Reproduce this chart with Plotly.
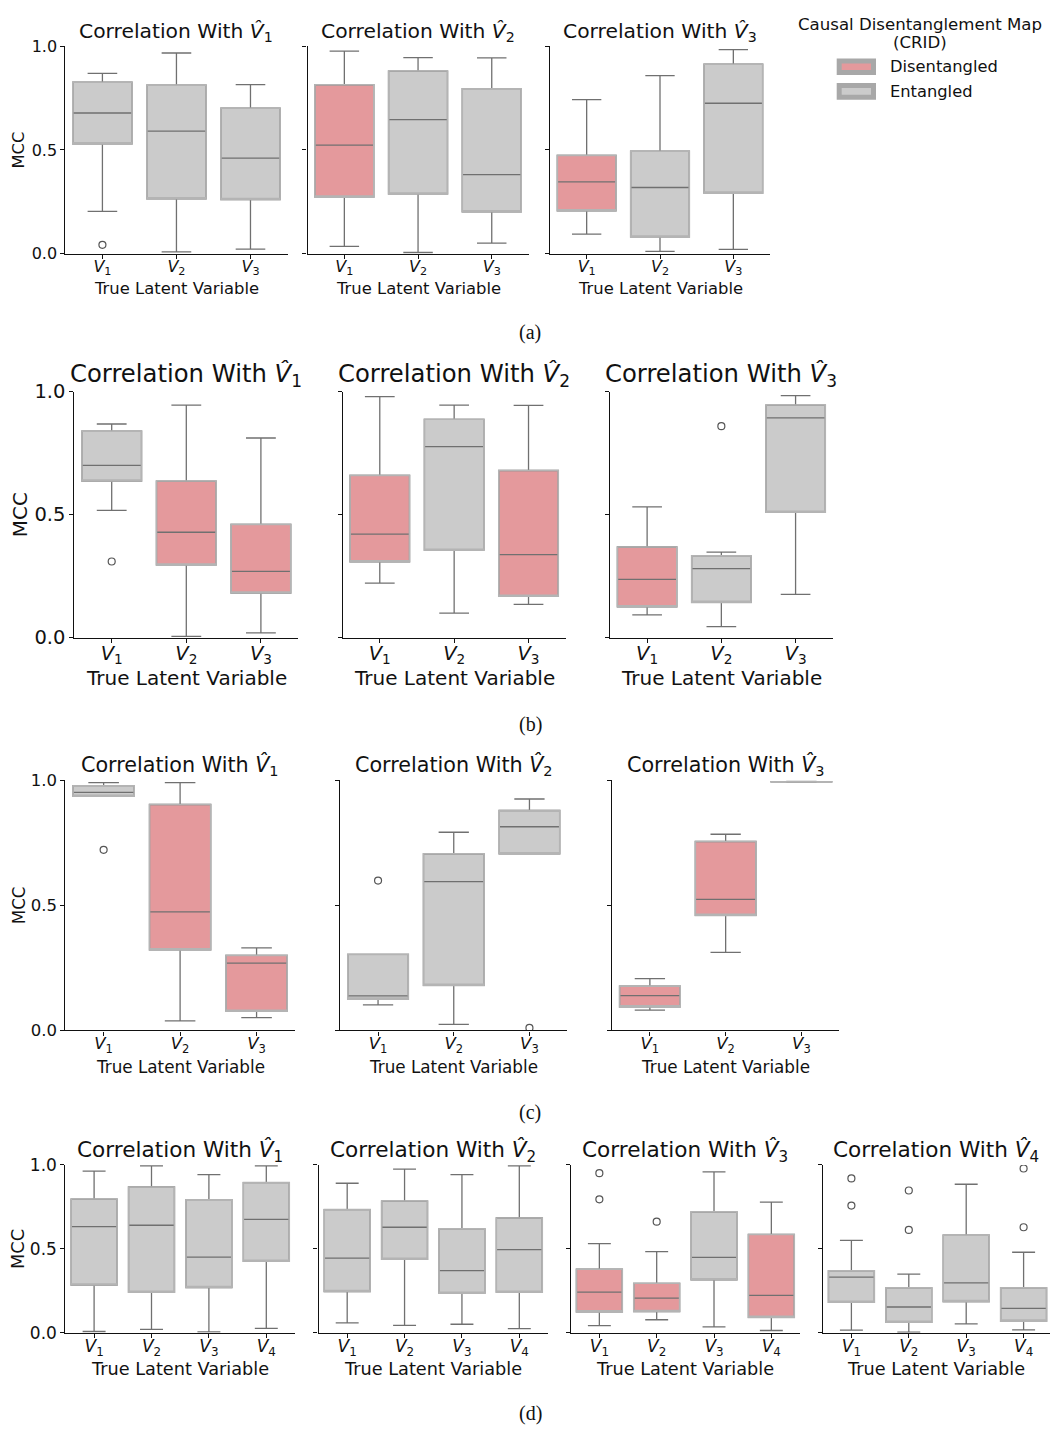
import plotly.graph_objects as go

W, H = 1050, 1439

# ---------------- data ----------------
latent3 = ["V1", "V2", "V3"]
latent4 = ["V1", "V2", "V3", "V4"]
y_ticks = [0.0, 0.5, 1.0]
y_tick_labels = ["0.0", "0.5", "1.0"]
state_names = {"D": "Disentangled", "E": "Entangled"}

# (a)  -- one inner list per "Correlation With V^k" panel
a_state = [["E", "E", "E"], ["D", "E", "E"], ["D", "E", "E"]]
a_lo = [[0.204, 0.009, 0.022], [0.036, 0.006, 0.051], [0.095, 0.011, 0.021]]
a_q1 = [[0.529, 0.265, 0.261], [0.273, 0.288, 0.202], [0.207, 0.081, 0.292]]
a_med = [[0.678, 0.591, 0.461], [0.523, 0.646, 0.381], [0.346, 0.319, 0.725]]
a_q3 = [[0.826, 0.812, 0.701], [0.814, 0.880, 0.795], [0.474, 0.494, 0.913]]
a_hi = [[0.869, 0.967, 0.815], [0.976, 0.945, 0.943], [0.742, 0.858, 0.983]]
a_out = [[[0.043], [], []], [[], [], []], [[], [], []]]

# (b)
b_state = [["E", "D", "D"], ["D", "E", "D"], ["D", "E", "E"]]
b_lo = [[0.517, 0.005, 0.019], [0.221, 0.099, 0.135], [0.092, 0.044, 0.175]]
b_q1 = [[0.636, 0.295, 0.181], [0.308, 0.355, 0.168], [0.125, 0.143, 0.509]]
b_med = [[0.700, 0.428, 0.269], [0.420, 0.776, 0.337], [0.236, 0.280, 0.893]]
b_q3 = [[0.839, 0.636, 0.460], [0.659, 0.887, 0.679], [0.368, 0.332, 0.945]]
b_hi = [[0.868, 0.945, 0.811], [0.979, 0.945, 0.944], [0.531, 0.347, 0.983]]
b_out = [[[0.309], [], []], [[], [], []], [[], [0.859], []]]

# (c)
c_state = [["E", "D", "D"], ["E", "E", "E"], ["D", "D", "E"]]
c_lo = [[0.936, 0.038, 0.051], [0.102, 0.024, 0.706], [0.081, 0.312, 0.992]]
c_q1 = [[0.936, 0.322, 0.077], [0.125, 0.180, 0.706], [0.094, 0.460, 0.993]]
c_med = [[0.951, 0.474, 0.269], [0.138, 0.595, 0.814], [0.139, 0.524, 0.993]]
c_q3 = [[0.978, 0.903, 0.300], [0.304, 0.706, 0.879], [0.177, 0.755, 0.994]]
c_hi = [[0.990, 0.990, 0.330], [0.304, 0.792, 0.925], [0.207, 0.784, 0.995]]
c_out = [[[0.722], [], []], [[0.599], [], [0.010]], [[], [], []]]

# (d)
d_state = [["E", "E", "E", "E"], ["E", "E", "E", "E"],
           ["D", "D", "E", "D"], ["E", "E", "E", "E"]]
d_lo = [[0.008, 0.021, 0.006, 0.027], [0.059, 0.045, 0.051, 0.025],
        [0.043, 0.078, 0.035, 0.014], [0.016, 0.004, 0.053, 0.018]]
d_q1 = [[0.285, 0.242, 0.270, 0.426], [0.246, 0.438, 0.236, 0.242],
        [0.125, 0.127, 0.316, 0.092], [0.182, 0.063, 0.186, 0.070]]
d_med = [[0.633, 0.641, 0.451, 0.676], [0.445, 0.629, 0.371, 0.496],
         [0.242, 0.207, 0.449, 0.223], [0.332, 0.154, 0.297, 0.146]]
d_q3 = [[0.797, 0.869, 0.793, 0.895], [0.734, 0.785, 0.619, 0.684],
        [0.379, 0.295, 0.721, 0.586], [0.369, 0.268, 0.582, 0.268]]
d_hi = [[0.963, 0.994, 0.943, 0.994], [0.891, 0.975, 0.943, 0.994],
        [0.531, 0.484, 0.959, 0.779], [0.551, 0.350, 0.885, 0.480]]
d_out = [[[], [], [], []], [[], [], [], []],
         [[0.951, 0.795], [0.662], [], []],
         [[0.920, 0.758], [0.848, 0.613], [], [0.979, 0.629]]]

# ---------------- styling / layout geometry (pixels) ----------------
FILL = {"D": "#E4999C", "E": "#CBCBCB"}
EDGE = "#B4B4B4"
WHISK = "#707070"
FONT = "DejaVu Sans"
INK = "#111111"

rows = [
    dict(label="(a)", cats=latent3,
         data=(a_state, a_lo, a_q1, a_med, a_q3, a_hi, a_out),
         xdom=[(65.4, 287.5), (307.5, 528.6), (550, 770)], xend=[2.5, 2.5, 2.5],
         y0=246.7, y1=35.7, tick=16, lab=16.4, title=20.3,
         title_y=21.7, lab_y=282, mcc_x=18.6, plabel_y=327),
    dict(label="(b)", cats=latent3,
         data=(b_state, b_lo, b_q1, b_med, b_q3, b_hi, b_out),
         xdom=[(74.4, 298.2), (342.6, 565.7), (610, 832.7)], xend=[2.5, 2.5, 2.5],
         y0=636.7, y1=386.7, tick=19.5, lab=20, title=24.3,
         title_y=370.3, lab_y=678.3, mcc_x=19.8, plabel_y=725),
    dict(label="(c)", cats=latent3,
         data=(c_state, c_lo, c_q1, c_med, c_q3, c_hi, c_out),
         xdom=[(65.4, 294.8), (340.2, 567.3), (612, 839.3)], xend=[2.5, 2.5, 2.5],
         y0=1036, y1=781.7, tick=16.5, lab=16.8, title=20.7,
         title_y=766.3, lab_y=1073, mcc_x=19, plabel_y=1119),
    dict(label="(d)", cats=latent4,
         data=(d_state, d_lo, d_q1, d_med, d_q3, d_hi, d_out),
         xdom=[(65.4, 295), (318.5, 548), (570.7, 800), (822.7, 1050)],
         xend=[3.5, 3.5, 3.5, 3.46],
         y0=1343.3, y1=1172.7, tick=17, lab=17.7, title=21.6,
         title_y=1159.2, lab_y=1380, mcc_x=18, plabel_y=1425),
]


def px_x(v):
    return v / W


def px_y(v):
    return 1 - v / H


def sub_label(name):
    return "<i>%s</i><sub>%s</sub>" % (name[0], name[1:])


fig = go.Figure()
annotations = []
shapes = []
layout_axes = {}
k = 0

for row in rows:
    state, lo, q1, med, q3, hi, outs = row["data"]
    cats = row["cats"]
    for p, (xa, xb) in enumerate(row["xdom"]):
        k += 1
        xname = "x" if k == 1 else "x%d" % k
        yname = "y" if k == 1 else "y%d" % k
        xkey = "xaxis" if k == 1 else "xaxis%d" % k
        ykey = "yaxis" if k == 1 else "yaxis%d" % k

        for i in range(len(cats)):
            col = FILL[state[p][i]]
            # box body + whiskers + median
            fig.add_trace(go.Box(
                x=[i], q1=[q1[p][i]], median=[med[p][i]], q3=[q3[p][i]],
                lowerfence=[lo[p][i]], upperfence=[hi[p][i]],
                fillcolor=col, line=dict(color=WHISK, width=1.3),
                width=0.8, whiskerwidth=0.5, boxpoints=False,
                name=state_names[state[p][i]], showlegend=False,
                hoverinfo="skip", xaxis=xname, yaxis=yname))
            # light box outline drawn over the body
            fig.add_trace(go.Box(
                x=[i], q1=[q1[p][i]], median=[q1[p][i]], q3=[q3[p][i]],
                lowerfence=[q1[p][i]], upperfence=[q3[p][i]],
                fillcolor="rgba(0,0,0,0)", line=dict(color=EDGE, width=1.6),
                width=0.8, whiskerwidth=0, boxpoints=False,
                showlegend=False, hoverinfo="skip", xaxis=xname, yaxis=yname))
            if outs[p][i]:
                fig.add_trace(go.Scatter(
                    x=[i] * len(outs[p][i]), y=outs[p][i], mode="markers",
                    marker=dict(symbol="circle-open", size=7, color="#555555",
                                line=dict(width=1.2, color="#555555")),
                    showlegend=False, hoverinfo="skip", xaxis=xname, yaxis=yname))

        layout_axes[xkey] = dict(
            domain=[px_x(xa), px_x(xb)], anchor=yname,
            range=[-0.5, row["xend"][p]], tickmode="array",
            tickvals=list(range(len(cats))), ticktext=[sub_label(c) for c in cats],
            showline=True, linecolor=INK, linewidth=1.2, mirror=False,
            ticks="outside", ticklen=4, tickwidth=1.1, tickcolor=INK,
            ticklabelstandoff=-6,
            showgrid=False, zeroline=False, fixedrange=True,
            tickfont=dict(family=FONT, size=row["tick"], color=INK))
        layout_axes[ykey] = dict(
            domain=[px_y(row["y0"]), px_y(row["y1"])], anchor=xname,
            range=[0, 1], tickmode="array", tickvals=y_ticks,
            ticktext=y_tick_labels, showticklabels=(p == 0),
            showline=True, linecolor=INK, linewidth=1.2,
            ticks="outside", ticklen=4, tickwidth=1.1, tickcolor=INK,
            showgrid=False, zeroline=False, fixedrange=True,
            tickfont=dict(family=FONT, size=row["tick"], color=INK))

        cx = px_x((xa + xb) / 2)
        annotations.append(dict(
            text="Correlation With <i>V\u0302</i><sub>%d</sub>" % (p + 1),
            x=cx, y=px_y(row["title_y"]), xref="paper", yref="paper",
            xanchor="center", yanchor="middle", showarrow=False,
            font=dict(family=FONT, size=row["title"], color=INK)))
        annotations.append(dict(
            text="True Latent Variable", x=cx, y=px_y(row["lab_y"]),
            xref="paper", yref="paper", xanchor="center", yanchor="middle",
            showarrow=False, font=dict(family=FONT, size=row["lab"], color=INK)))

    annotations.append(dict(
        text="MCC", x=px_x(row["mcc_x"]), y=px_y((row["y0"] + row["y1"]) / 2),
        xref="paper", yref="paper", xanchor="center", yanchor="middle",
        textangle=-90, showarrow=False,
        font=dict(family=FONT, size=row["lab"], color=INK)))
    annotations.append(dict(
        text=row["label"], x=px_x(530), y=px_y(row["plabel_y"]),
        xref="paper", yref="paper", xanchor="center", yanchor="middle",
        showarrow=False, font=dict(family="Liberation Serif", size=20, color=INK)))

# ---------------- legend (drawn as patches + text) ----------------
annotations.append(dict(text="Causal Disentanglement Map", x=px_x(919.5), y=px_y(13.3),
                        xref="paper", yref="paper", xanchor="center", yanchor="middle",
                        showarrow=False, font=dict(family=FONT, size=16.6, color=INK)))
annotations.append(dict(text="(CRID)", x=px_x(919.5), y=px_y(32.3),
                        xref="paper", yref="paper", xanchor="center", yanchor="middle",
                        showarrow=False, font=dict(family=FONT, size=16.6, color=INK)))
for j, (st, ymid) in enumerate([("D", 56.7), ("E", 81.7)]):
    shapes.append(dict(type="rect", xref="paper", yref="paper",
                       x0=px_x(839.2), x1=px_x(873.5),
                       y0=px_y(ymid - 5.9), y1=px_y(ymid + 5.9),
                       fillcolor=FILL[st], line=dict(color="#A8A8A8", width=5)))
    annotations.append(dict(text=state_names[st], x=px_x(888.3), y=px_y(ymid),
                            xref="paper", yref="paper", xanchor="left", yanchor="middle",
                            showarrow=False, font=dict(family=FONT, size=16.3, color=INK)))

fig.update_layout(
    width=W, height=H, margin=dict(l=0, r=0, t=0, b=0),
    paper_bgcolor="white", plot_bgcolor="white",
    boxmode="overlay", showlegend=False,
    annotations=annotations, shapes=shapes,
    font=dict(family=FONT, color=INK),
    **layout_axes)

fig.write_html(
    "out.html",
    config={"displayModeBar": False},
    post_script=(
        "var gd=document.getElementById('{plot_id}');"
        "document.documentElement.style.margin='0px';"
        "document.documentElement.style.overflow='hidden';"
        "document.body.style.margin='0px';"
        "document.body.style.padding='0px';"
        "document.body.style.overflow='hidden';"
        "gd.style.position='fixed';gd.style.left='0px';gd.style.top='0px';"))
